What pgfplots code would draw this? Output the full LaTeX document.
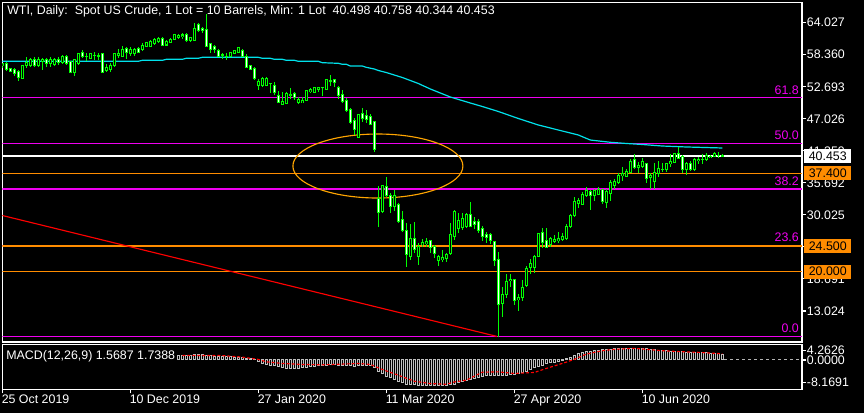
\documentclass[border=0pt]{standalone}
\usepackage{pgfplots}
\pgfplotsset{compat=1.18}
\usepackage{pgfplotstable}
\usepackage{fontspec}
\setmainfont{Liberation Sans}

\definecolor{mtgreen}{RGB}{0,255,0}
\definecolor{mtcyan}{RGB}{0,225,235}
\definecolor{mtorange}{RGB}{255,140,0}
\definecolor{mtgold}{RGB}{255,165,0}
\definecolor{mtmag}{RGB}{240,0,240}
\definecolor{mtsilver}{RGB}{192,192,192}
\definecolor{mtred}{RGB}{255,0,0}
\newcommand\mtfont{\fontsize{9.3}{11}\selectfont}

% daily candles: index, open, high, low, close
\pgfplotstableread{
i o h l c
0 56.37 56.90 56.01 56.72
1 56.84 57.13 55.48 55.78
2 55.92 56.10 55.30 55.48
3 55.75 56.01 54.60 54.95
4 55.36 55.66 53.76 54.29
5 54.19 56.54 54.01 56.37
6 56.37 57.90 55.96 57.07
7 56.54 57.73 56.24 57.43
8 57.43 58.01 56.13 56.37
9 56.37 57.90 56.19 57.55
10 57.13 57.73 55.66 57.55
11 57.43 57.78 56.19 56.72
12 56.72 57.96 56.19 57.43
13 56.63 57.78 56.37 57.60
14 57.55 57.96 56.63 56.90
15 56.95 58.31 56.72 58.13
16 58.01 58.31 56.54 56.84
17 57.13 57.25 55.13 55.18
18 55.18 57.55 54.65 57.43
19 56.84 58.72 56.54 58.61
20 58.72 59.20 57.73 58.01
21 58.13 58.61 57.30 58.08
22 57.73 58.72 57.55 58.61
23 58.31 58.89 57.43 58.22
24 58.22 58.61 57.43 58.13
25 58.49 58.72 55.07 55.18
26 55.53 56.72 55.36 56.13
27 55.66 56.95 55.36 56.54
28 56.37 58.72 56.24 58.61
29 58.31 59.32 57.73 58.61
30 58.13 59.90 58.01 59.20
31 59.50 59.67 57.55 58.72
32 58.61 59.73 58.13 59.32
33 58.61 59.50 58.13 59.20
34 59.50 59.78 58.61 58.72
35 59.20 60.38 59.07 60.08
36 59.90 60.66 59.78 60.49
37 59.90 60.96 59.78 60.66
38 60.26 61.26 60.13 61.09
39 60.66 61.49 60.49 61.26
40 61.26 61.49 59.96 60.08
41 60.08 60.96 59.90 60.66
42 60.49 61.26 60.38 61.09
43 61.09 62.03 60.96 61.85
44 61.49 62.03 61.09 61.80
45 61.55 62.15 61.09 61.85
46 61.85 62.15 60.66 60.84
47 60.84 61.55 60.66 61.44
48 60.96 63.92 60.84 63.03
49 63.62 63.92 62.43 62.61
50 63.03 63.32 62.15 62.73
51 62.86 65.56 59.67 59.78
52 60.26 60.38 58.61 59.32
53 59.90 60.13 58.72 59.20
54 59.07 59.32 57.90 58.01
55 58.31 58.72 57.55 58.36
56 58.13 58.72 57.43 58.08
57 58.01 58.89 57.90 58.72
58 58.61 59.20 58.49 59.02
59 58.72 59.78 58.61 59.67
60 59.07 59.32 57.90 58.01
61 58.13 58.49 56.01 56.13
62 56.37 56.54 55.66 55.78
63 55.96 56.19 53.89 54.07
64 52.83 54.01 52.12 53.59
65 52.83 54.42 52.65 54.19
66 53.00 54.42 52.83 54.19
67 53.30 53.36 51.64 53.25
68 53.00 53.59 51.23 51.64
69 51.23 51.99 49.77 49.87
70 49.59 51.82 49.47 50.05
71 49.77 51.82 49.59 51.53
72 51.23 52.42 50.47 51.41
73 51.53 51.82 50.35 50.83
74 49.87 50.83 49.59 50.47
75 49.87 50.83 49.77 50.23
76 50.23 52.12 50.12 51.99
77 51.82 52.42 51.64 52.24
78 51.64 52.70 51.53 52.60
79 52.24 52.70 51.82 52.60
80 52.60 52.65 51.06 52.53
81 52.24 54.01 52.12 53.89
82 53.76 54.77 52.83 53.71
83 53.89 54.01 52.60 53.41
84 52.60 52.83 50.47 51.23
85 51.41 52.12 49.77 50.05
86 50.35 50.65 48.28 48.58
87 48.71 48.88 46.10 46.33
88 46.64 47.11 44.16 45.17
89 43.75 47.87 43.63 47.70
90 47.98 48.88 46.51 47.11
91 47.52 48.58 46.23 46.94
92 47.40 47.82 45.93 46.10
93 46.51 46.69 41.20 41.63
94 32.96 35.14 27.83 30.41
95 30.59 35.31 30.41 35.14
96 35.01 36.68 33.14 33.37
97 33.37 33.95 30.41 31.48
98 31.48 34.43 30.77 33.37
99 31.95 32.08 28.54 28.82
100 29.25 30.77 27.05 27.23
101 27.35 28.54 20.75 22.93
102 22.75 28.41 22.05 25.88
103 25.88 28.82 23.34 23.94
104 22.63 25.00 21.16 24.40
105 24.70 25.71 24.29 25.11
106 24.88 25.88 24.29 25.28
107 25.46 25.58 23.34 24.29
108 24.52 24.70 22.35 23.23
109 21.92 22.93 20.99 22.63
110 22.05 23.81 21.75 22.45
111 22.35 23.23 21.75 22.93
112 23.23 28.54 22.93 26.47
113 26.29 30.89 25.58 30.59
114 27.65 30.41 26.88 29.12
115 27.83 30.41 27.35 29.42
116 28.06 30.31 27.65 30.01
117 30.18 32.36 27.83 28.06
118 28.82 29.71 27.48 28.24
119 28.82 29.25 26.77 27.35
120 27.65 28.06 25.46 26.29
121 26.64 27.05 24.99 26.06
122 26.47 26.77 24.88 25.46
123 25.28 25.46 20.99 21.92
124 22.05 23.51 8.48 14.26
125 14.39 17.32 11.91 15.86
126 16.03 19.57 15.27 18.21
127 18.38 19.57 17.32 18.63
128 18.51 18.63 14.08 14.85
129 14.97 16.03 13.08 15.45
130 15.45 18.51 14.85 17.22
131 17.45 20.99 17.22 20.58
132 20.75 22.17 19.57 21.34
133 20.75 22.93 19.80 22.75
134 22.75 26.88 22.63 26.77
135 26.88 27.65 24.12 25.11
136 25.46 27.65 24.12 24.29
137 24.70 26.06 24.40 25.88
138 25.28 26.47 24.99 25.71
139 25.46 27.05 24.99 25.88
140 25.71 26.88 25.41 26.17
141 25.88 28.41 25.58 28.06
142 27.94 30.18 27.65 29.83
143 29.83 33.14 29.71 32.48
144 32.08 32.96 31.19 32.54
145 31.95 34.13 31.78 33.72
146 33.54 34.91 33.24 34.30
147 34.13 34.43 30.89 33.54
148 33.37 34.55 32.54 34.30
149 33.72 34.91 33.54 34.55
150 34.43 34.55 31.95 32.36
151 32.18 34.55 31.19 34.13
152 33.85 36.20 32.54 35.72
153 35.31 36.32 34.55 35.90
154 35.72 37.38 35.49 37.08
155 36.91 38.44 36.07 37.26
156 36.78 38.09 36.68 37.67
157 37.49 39.86 37.38 39.44
158 39.74 40.80 38.09 38.44
159 38.44 39.44 37.38 38.85
160 38.55 40.04 38.27 39.44
161 39.15 39.26 35.61 36.50
162 36.68 37.38 34.55 37.08
163 35.90 39.26 34.55 37.49
164 37.38 39.61 36.68 38.27
165 38.09 39.26 37.67 38.14
166 38.09 39.26 37.67 39.03
167 39.03 40.80 38.55 39.44
168 39.26 40.92 39.15 40.80
169 40.80 41.98 39.86 40.04
170 40.32 40.62 37.38 38.09
171 37.97 39.44 37.08 39.15
172 39.15 39.61 37.84 38.09
173 38.09 40.04 37.84 39.86
174 39.61 40.21 39.03 39.86
175 39.81 40.80 39.03 39.86
176 39.86 40.92 39.61 40.62
177 40.21 40.62 40.04 40.44
178 40.32 41.21 40.21 40.80
179 40.57 41.21 40.04 40.62
180 40.498 40.758 40.344 40.453
}\candles

% MACD main (histogram)
\pgfplotstableread{
i v
44 1.3
45 1.35
46 1.35
47 1.3
48 1.4
49 1.45
50 1.45
51 1.3
52 1.2
53 1.1
54 1.0
55 0.95
56 0.9
57 0.85
58 0.8
59 0.8
60 0.7
61 0.5
62 0.3
63 0.05
64 -0.5
65 -0.9
66 -1.3
67 -1.4
68 -1.6
69 -1.9
70 -2.2
71 -2.3
72 -2.3
73 -2.3
74 -2.3
75 -2.2
76 -2.0
77 -1.8
78 -1.7
79 -1.6
80 -1.5
81 -1.4
82 -1.3
83 -1.3
84 -1.4
85 -1.5
86 -1.6
87 -1.6
88 -1.7
89 -1.5
90 -1.4
91 -1.4
92 -1.5
93 -2.1
94 -3.3
95 -3.8
96 -4.5
97 -5.0
98 -5.4
99 -5.9
100 -6.3
101 -6.7
102 -6.8
103 -6.9
104 -7.0
105 -7.0
106 -7.0
107 -7.0
108 -7.0
109 -7.0
110 -7.0
111 -7.0
112 -6.9
113 -6.7
114 -6.4
115 -6.1
116 -5.7
117 -5.4
118 -5.1
119 -4.8
120 -4.6
121 -4.4
122 -4.3
123 -4.3
124 -4.4
125 -4.3
126 -4.2
127 -4.1
128 -4.1
129 -3.9
130 -3.6
131 -3.1
132 -2.6
133 -2.2
134 -1.8
135 -1.4
136 -1.1
137 -0.8
138 -0.6
139 -0.4
140 -0.1
141 0.3
142 0.8
143 1.3
144 1.7
145 2.0
146 2.3
147 2.5
148 2.6
149 2.7
150 2.8
151 2.9
152 3.0
153 3.1
154 3.15
155 3.2
156 3.25
157 3.3
158 3.25
159 3.25
160 3.2
161 3.1
162 2.95
163 2.85
164 2.75
165 2.65
166 2.6
167 2.5
168 2.45
169 2.4
170 2.3
171 2.2
172 2.15
173 2.1
174 2.05
175 2.0
176 1.95
177 1.9
178 1.8
179 1.7
180 1.5687
}\macd

\begin{document}
\begin{tikzpicture}
\fill[black] (0pt,0pt) rectangle (648pt,309.75pt);

% ---------- price panel ----------
\begin{axis}[at={(1.725pt,53.25pt)}, anchor=south west, scale only axis,
  width=599.775pt, height=254.625pt,
  xmin=0, xmax=199.925, ymin=7.54, ymax=67.60,
  clip mode=individual,
  axis line style={white, line width=0.8pt},
  xtick=\empty,
  ytick={64.027,58.360,52.693,47.026,41.359,35.692,30.025,24.358,18.691,13.024},
  yticklabels={64.027,58.360,52.693,47.026,41.359,35.692,30.025,24.358,18.691,13.024},
  ytick pos=right, yticklabel pos=right,
  tick align=outside, major tick length=3pt,
  tick style={white, line width=0.8pt},
  yticklabel style={text=white, font=\mtfont, anchor=west, inner sep=0pt, xshift=0.5pt},
]
% fibonacci levels
\addplot[mtmag, line width=1.05pt] coordinates {(0,50.76)(199.925,50.76)};
\addplot[mtmag, line width=1.05pt] coordinates {(0,42.69)(199.925,42.69)};
\addplot[mtmag, line width=1.05pt] coordinates {(0,34.63)(199.925,34.63)};
\addplot[mtmag, line width=1.05pt] coordinates {(0,24.65)(199.925,24.65)};
\addplot[mtmag, line width=1.05pt] coordinates {(0,8.52)(199.925,8.52)};
% horizontal levels
\addplot[mtorange, line width=1.05pt] coordinates {(0,37.4)(199.925,37.4)};
\addplot[mtorange, line width=1.05pt] coordinates {(0,24.5)(199.925,24.5)};
\addplot[mtorange, line width=1.05pt] coordinates {(0,20.0)(199.925,20.0)};
\addplot[white, line width=0.9pt] coordinates {(0,40.453)(199.925,40.453)};
% trend line
\addplot[mtred, line width=0.85pt] coordinates {(0,29.92)(123.7,8.52)};
% moving average
\addplot[mtcyan, line width=0.9pt] coordinates {
(0,57.20)(34,57.20)(35,57.37)(40,57.37)(41,57.55)(45,57.55)(46,57.73)(49,57.73)
(50,57.90)(64,57.90)(65,57.73)(67,57.73)(68,57.55)(70,57.55)(71,57.37)(73,57.37)
(74,57.20)(79,57.20)(80,56.95)(84,56.84)(85,56.67)(86,56.67)(87,56.36)(90,56.36)
(91,56.13)(93,55.83)(94,55.57)(96,55.21)(98,54.77)(100,54.33)(102,53.80)(104,53.27)
(107,52.30)(112,50.88)(117,49.82)(120,49.20)(124,48.32)(129,47.08)(134,45.93)
(139,45.04)(144,44.16)(147,43.27)(149,43.11)(152,42.87)(156,42.66)(160,42.48)
(165,42.21)(171,42.04)(180,41.86)};
% ellipse
\draw[mtgold, line width=0.85pt] (axis cs:93.9,38.67) ellipse [x radius=63.75pt, y radius=24pt];
% candles: wicks, body outline, body fill
\addplot[draw=none, mark=none, error bars/.cd, y dir=both, y explicit, error mark=none,
  error bar style={draw=mtgreen, line width=0.8pt}]
  table[x=i, y expr={(\thisrow{h}+\thisrow{l})/2}, y error expr={(\thisrow{h}-\thisrow{l})/2}] {\candles};
\addplot[draw=none, mark=none, error bars/.cd, y dir=both, y explicit, error mark=none,
  error bar style={draw=mtgreen, line width=2.25pt}]
  table[x=i, y expr={(\thisrow{o}+\thisrow{c})/2}, y error expr={abs(\thisrow{o}-\thisrow{c})/2+0.0885}] {\candles};
\addplot[draw=none, mark=none, error bars/.cd, y dir=both, y explicit, error mark=none,
  error bar style={draw=white, line width=0.75pt}]
  table[x=i, y expr={(\thisrow{o}+\thisrow{c})/2}, y error expr={max((\thisrow{o}-\thisrow{c})/2-0.0885,0)}] {\candles};
\addplot[draw=none, mark=none, error bars/.cd, y dir=both, y explicit, error mark=none,
  error bar style={draw=black, line width=0.75pt}]
  table[x=i, y expr={(\thisrow{o}+\thisrow{c})/2}, y error expr={max((\thisrow{c}-\thisrow{o})/2-0.0885,0)}] {\candles};
% level captions
\node[text=mtmag, font=\mtfont, anchor=base east, inner sep=0pt] at (axis cs:199.2,50.76) [yshift=2.6pt] {61.8};
\node[text=mtmag, font=\mtfont, anchor=base east, inner sep=0pt] at (axis cs:199.2,42.69) [yshift=2.6pt] {50.0};
\node[text=mtmag, font=\mtfont, anchor=base east, inner sep=0pt] at (axis cs:199.2,34.63) [yshift=2.6pt] {38.2};
\node[text=mtmag, font=\mtfont, anchor=base east, inner sep=0pt] at (axis cs:199.2,24.65) [yshift=2.6pt] {23.6};
\node[text=mtmag, font=\mtfont, anchor=base east, inner sep=0pt] at (axis cs:199.2,8.52) [yshift=2.6pt] {0.0};
\coordinate (bw) at (axis cs:199.925,40.453);
\coordinate (b1) at (axis cs:199.925,37.4);
\coordinate (b2) at (axis cs:199.925,24.5);
\coordinate (b3) at (axis cs:199.925,20.0);
\end{axis}

% ---------- MACD panel ----------
\begin{axis}[at={(1.725pt,17.775pt)}, anchor=south west, scale only axis,
  width=599.775pt, height=33.45pt,
  xmin=0, xmax=199.925, ymin=-8.1691, ymax=4.2626,
  clip mode=individual,
  axis line style={white, line width=0.8pt},
  xtick={0,32,64,96,128,160},
  xticklabels={25 Oct 2019,10 Dec 2019,27 Jan 2020,11 Mar 2020,27 Apr 2020,10 Jun 2020},
  xtick pos=bottom, ytick pos=right, yticklabel pos=right,
  ytick={2.58,0,-6.28}, yticklabels={4.2626,0.0000,-8.1691},
  tick align=outside, major tick length=3pt,
  tick style={white, line width=0.8pt},
  xticklabel style={text=white, font=\mtfont, anchor=north west, inner sep=0pt, xshift=-0.6pt, yshift=-1pt},
  yticklabel style={text=white, font=\mtfont, anchor=west, inner sep=0pt, xshift=0.5pt},
]
\addplot[mtsilver!80!gray, dash pattern=on 2.25pt off 2.25pt, line width=0.75pt] coordinates {(180.5,0)(199.925,0)};
\addplot[ybar, bar width=1.5pt, bar shift=0pt, draw=mtsilver, fill=black, line width=0.75pt]
  table[x=i, y=v] {\macd};
\addplot[mtred, line width=0.85pt, dash pattern=on 2.25pt off 1.5pt] coordinates {
(45,1.29)(55,1.23)(60,0.81)(64,0.17)(66,-0.51)(70,-0.96)(75,-1.24)(80,-1.35)
(85,-1.15)(89,-0.96)(92,-1.24)(95,-2.64)(99,-4.24)(103,-5.92)(107,-6.57)(111,-6.76)
(113,-6.12)(116,-5.64)(120,-3.40)(124,-3.31)(128,-3.76)(133,-3.48)(136,-2.36)
(140,-0.96)(143,0.17)(146,1.65)(150,2.58)(153,2.97)(158,3.25)(161,2.97)(165,2.58)
(170,2.30)(174,2.13)(180,1.74)};
\end{axis}

% ---------- captions and price boxes ----------
\node[text=white, font=\mtfont, anchor=west, inner sep=0pt] at (5.25pt,301.5pt)
  {WTI, Daily:\ \ Spot US Crude, 1 Lot = 10 Barrels, Min: 1 Lot\ \ 40.498 40.758 40.344 40.453};
\node[text=white, font=\mtfont, anchor=west, inner sep=0pt] at (4.5pt,42.75pt)
  {MACD(12,26,9) 1.5687 1.7388};
\node[fill=white, text=black, font=\mtfont, anchor=west, inner sep=0pt, minimum width=35.25pt, minimum height=10.5pt, xshift=1.5pt] at (bw) {40.453};
\node[fill=mtorange, text=black, font=\mtfont, anchor=west, inner sep=0pt, minimum width=35.25pt, minimum height=10.5pt, xshift=1.5pt] at (b1) {37.400};
\node[fill=mtorange, text=black, font=\mtfont, anchor=west, inner sep=0pt, minimum width=35.25pt, minimum height=10.5pt, xshift=1.5pt] at (b2) {24.500};
\node[fill=mtorange, text=black, font=\mtfont, anchor=west, inner sep=0pt, minimum width=35.25pt, minimum height=10.5pt, xshift=1.5pt] at (b3) {20.000};

\pgfresetboundingbox
\useasboundingbox (0pt,0pt) rectangle (648pt,309.75pt);
\end{tikzpicture}
\end{document}
